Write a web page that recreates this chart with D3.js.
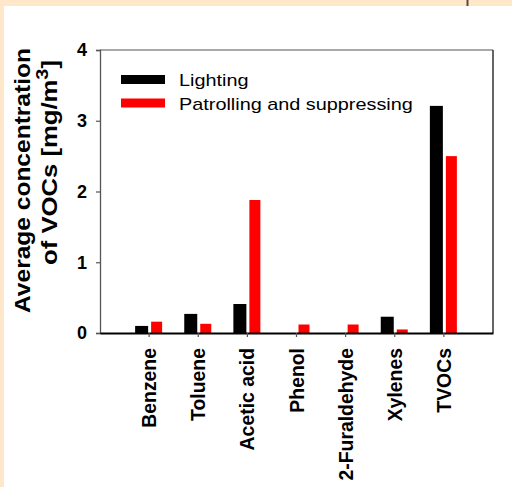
<!DOCTYPE html>
<html>
<head>
<meta charset="utf-8">
<script src="https://cdn.jsdelivr.net/npm/d3@7"></script>
<style>
html,body{margin:0;padding:0;background:#FFE8CA;}
svg{display:block;}
text{font-family:"Liberation Sans",Arial,sans-serif;}
</style>
</head>
<body>
<script>
const categories = ["Benzene","Toluene","Acetic acid","Phenol","2-Furaldehyde","Xylenes","TVOCs"];
const lighting = [0.10, 0.27, 0.41, 0, 0, 0.23, 3.21];
const patrolling = [0.16, 0.13, 1.88, 0.12, 0.12, 0.05, 2.50];
const seriesNames = ["Lighting","Patrolling and suppressing"];
const seriesColors = ["#000000","#FF0000"];
const yTicks = [0,1,2,3,4];

const W = 512, H = 487;
const svg = d3.select("body").append("svg").attr("width",W).attr("height",H);

// background panels
svg.append("rect").attr("x",0).attr("y",0).attr("width",W).attr("height",H).attr("fill","#FFE8CA");
svg.append("rect").attr("x",4).attr("y",6).attr("width",W-4).attr("height",H-6).attr("fill","#FFFFFF");
svg.append("line").attr("x1",467.5).attr("x2",467.5).attr("y1",0).attr("y2",6)
  .attr("stroke","#5A4A3C").attr("stroke-width",2);

const L = 100, R = 493, T = 50, B = 333;
const x = d3.scaleBand().domain(categories).range([L,R]).paddingInner(0).paddingOuter(0.5);
const y = d3.scaleLinear().domain([0,4]).range([B,T]);

// frame top/right
svg.append("line").attr("x1",L).attr("x2",R).attr("y1",T).attr("y2",T).attr("stroke","#555").attr("stroke-width",1.2);
svg.append("line").attr("x1",R).attr("x2",R).attr("y1",T).attr("y2",B).attr("stroke","#333").attr("stroke-width",1.5);

// bars
const cx = c => x(c) + x.bandwidth()/2;
svg.append("g").selectAll("rect").data(categories).join("rect")
  .attr("x", c => cx(c) - 14).attr("width", 13)
  .attr("y", (c,i) => y(lighting[i])).attr("height", (c,i) => B - y(lighting[i]))
  .attr("fill", seriesColors[0]);
svg.append("g").selectAll("rect").data(categories).join("rect")
  .attr("x", c => cx(c) + 2).attr("width", 11)
  .attr("y", (c,i) => y(patrolling[i])).attr("height", (c,i) => B - y(patrolling[i]))
  .attr("fill", seriesColors[1]);

// y axis
const yAxis = d3.axisLeft(y).tickValues(yTicks).tickFormat(d3.format("d")).tickSize(4).tickPadding(9);
const gy = svg.append("g").attr("transform",`translate(${L},0)`).call(yAxis);
gy.select(".domain").attr("stroke","#555").attr("stroke-width",1.3);
gy.selectAll(".tick line").attr("stroke","#555").attr("stroke-width",1.2);
gy.selectAll(".tick text").attr("font-size",18).attr("font-weight","bold").attr("fill","#000")
  .attr("font-family","Liberation Sans, Arial, sans-serif");

// x axis
const xAxis = d3.axisBottom(x).tickSize(4).tickSizeOuter(0).tickFormat("");
const gx = svg.append("g").attr("transform",`translate(0,${B})`).call(xAxis);
gx.select(".domain").attr("stroke","#000").attr("stroke-width",2);
gx.selectAll(".tick line").attr("stroke","#555").attr("stroke-width",1.2);

// x labels rotated
svg.append("g").selectAll("text").data(categories).join("text")
  .attr("transform", c => `translate(${cx(c)+7},348) rotate(-90)`)
  .attr("text-anchor","end")
  .attr("font-size",19.4).attr("font-weight","bold").attr("fill","#000")
  .text(c => c);

// y title (stretched along reading direction to match the reference)
function fit(sel, target){
  const w = sel.node().getBBox().width;
  return target / w;
}
const t1 = svg.append("text").attr("text-anchor","middle").attr("font-size",22).attr("font-weight","bold")
  .text("Average concentration");
const s1 = fit(t1, 265);
t1.attr("transform",`translate(30,180.5) rotate(-90) scale(${s1},1)`);

const t2 = svg.append("text").attr("text-anchor","middle").attr("font-size",22).attr("font-weight","bold");
t2.append("tspan").text("of VOCs [mg/m");
t2.append("tspan").attr("baseline-shift","super").attr("font-size",17).text("3");
t2.append("tspan").text("]");
const s2 = fit(t2, 205);
t2.attr("transform",`translate(57,162.5) rotate(-90) scale(${s2},1)`);

// legend
const lg = svg.append("g");
const lt = [];
seriesNames.forEach((s,i) => {
  lg.append("rect").attr("x",121).attr("y",75 + i*23.5).attr("width",44).attr("height",9).attr("fill",seriesColors[i]);
  lt.push(lg.append("text").attr("x",0).attr("y",0).attr("font-size",17).attr("fill","#000").text(s));
});
const ls = fit(lt[1], 234);
lt.forEach((t,i) => t.attr("transform",`translate(179,${86 + i*23.8}) scale(${ls},1)`));
</script>
</body>
</html>
